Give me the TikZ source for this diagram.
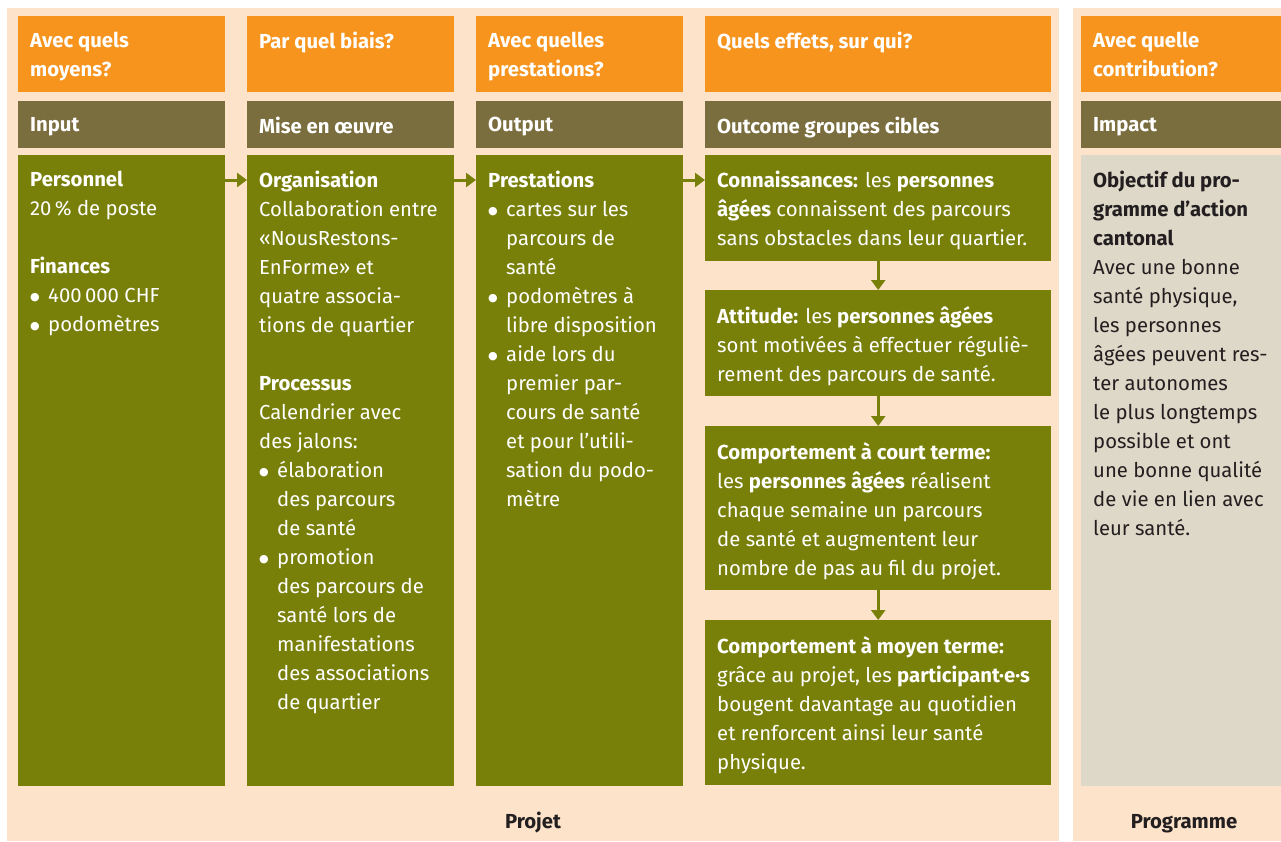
\documentclass[tikz,border=0pt]{standalone}
\usepackage{fontspec}
\setmainfont{Fira Sans}
\newfontfamily\dotfont{DejaVu Sans}
\usepackage{tikz}
\usetikzlibrary{positioning,calc,arrows.meta}

\definecolor{cream}{HTML}{FDE3C9}
\definecolor{orangehead}{HTML}{F7941E}
\definecolor{brownhead}{HTML}{7A6D3E}
\definecolor{olivebox}{HTML}{78800A}
\definecolor{greyimpact}{HTML}{DED8C8}
\definecolor{darktext}{HTML}{231F20}

\newcommand\itm{\makebox[18pt][l]{\raisebox{2.5pt}{\dotfont\fontsize{11}{11}\selectfont ●}}}
\newcommand\ind{\hspace*{18pt}}

\tikzset{
	box/.style={rectangle, draw=none, inner sep=0pt, anchor=north west},
	question/.style={box, fill=orangehead, minimum height=76pt},
	level/.style={box, fill=brownhead, minimum height=47pt},
	body/.style={box, fill=olivebox},
	headtxt/.style={anchor=north west, inner sep=0pt, align=left, text=white, font=\fontsize{20.3}{29}\selectfont\bfseries},
	bodytxt/.style={anchor=north west, inner sep=0pt, align=left, text=white, font=\fontsize{20.3}{29}\selectfont},
	lbl/.style={anchor=base, inner sep=0pt, text=darktext, font=\fontsize{20.3}{29}\selectfont\bfseries},
	flow/.style={olivebox, line width=3pt, -{Triangle[length=10pt,width=14pt]}}
}

\begin{document}
\begin{tikzpicture}[x=1pt, y=-1pt]
	\useasboundingbox (0,0) rectangle (1281,841);
	\fill[white] (0,0) rectangle (1281,841);
	\fill[cream] (7,8) rectangle (1059,841);
	\fill[cream] (1073,8) rectangle (1281,841);
	% headers
	\foreach \nm/\x/\w/\q/\l in {in/18/207/{Avec quels\\moyens?}/Input,
			mo/247/207/{Par quel biais?}/{Mise en œuvre},
			out/476/207/{Avec quelles\\prestations?}/Output,
			oc/705/346/{Quels effets, sur qui?}/{Outcome groupes cibles},
			imp/1081/200/{Avec quelle\\contribution?}/Impact} {
		\node[question, minimum width=\w pt] (q-\nm) at (\x,16) {};
		\node[headtxt] (tq-\nm) at ($(q-\nm.north west)+(12,16)$) {\q};
		\node[level, minimum width=\w pt] (l-\nm) at (\x,101) {};
		\node[headtxt] (tl-\nm) at ($(l-\nm.north west)+(12,16)$) {\l};
	};
	% input, mise en oeuvre, output
	\node[body, minimum width=207pt, minimum height=631pt] (b-in) at (18,155) {};
	\node[body, minimum width=207pt, minimum height=631pt] (b-mo) at (247,155) {};
	\node[body, minimum width=207pt, minimum height=631pt] (b-out) at (476,155) {};
	\node[bodytxt] (t-in) at ($(b-in.north west)+(12,16)$) {\textbf{Personnel}\\20\,\% de poste\\[29pt]
		\textbf{Finances}\\\itm 400\,000 CHF\\\itm podomètres};
	\node[bodytxt] (t-mo) at ($(b-mo.north west)+(12,16)$) {\textbf{Organisation}\\Collaboration entre\\«NousRestons-\\EnForme» et\\quatre associa-\\tions de quartier\\[29pt]
		\textbf{Processus}\\Calendrier avec\\des jalons:\\\itm élaboration\\\ind des parcours\\\ind de santé\\
		\itm promotion\\\ind des parcours de\\\ind santé lors de\\\ind manifestations\\\ind des associations\\\ind de quartier};
	\node[bodytxt] (t-out) at ($(b-out.north west)+(12,16)$) {\textbf{Prestations}\\\itm cartes sur les\\\ind parcours de\\\ind santé\\
		\itm podomètres à\\\ind libre disposition\\\itm aide lors du\\\ind premier par-\\\ind cours de santé\\\ind et pour l’utili-\\\ind sation du podo-\\\ind mètre};
	% outcome
	\node[body, minimum width=346pt, minimum height=106pt] (oc1) at (705,155) {};
	\node[body, minimum width=346pt, minimum height=106pt] (oc2) at (705,290) {};
	\node[body, minimum width=346pt, minimum height=164pt] (oc3) at (705,426) {};
	\node[body, minimum width=346pt, minimum height=165pt] (oc4) at (705,620) {};
	\node[bodytxt] (t-oc1) at ($(oc1.north west)+(12,16)$) {\textbf{Connaissances:} les \textbf{personnes}\\\textbf{âgées} connaissent des parcours\\sans obstacles dans leur quartier.};
	\node[bodytxt] (t-oc2) at ($(oc2.north west)+(12,16)$) {\textbf{Attitude:} les \textbf{personnes âgées}\\sont motivées à effectuer réguliè-\\rement des parcours de santé.};
	\node[bodytxt] (t-oc3) at ($(oc3.north west)+(12,16)$) {\textbf{Comportement à court terme:}\\les \textbf{personnes âgées} réalisent\\chaque semaine un parcours\\de santé et augmentent leur\\nombre de pas au fil du projet.};
	\node[bodytxt] (t-oc4) at ($(oc4.north west)+(12,16)$) {\textbf{Comportement à moyen terme:}\\grâce au projet, les \textbf{participant·e·s}\\bougent davantage au quotidien\\et renforcent ainsi leur santé\\physique.};
	% impact
	\node[box, fill=greyimpact, minimum width=200pt, minimum height=631pt] (b-imp) at (1081,155) {};
	\node[bodytxt, text=darktext] (t-imp) at ($(b-imp.north west)+(12,16)$) {\textbf{Objectif du pro-}\\\textbf{gramme d’action}\\\textbf{cantonal}\\Avec une bonne\\santé physique,\\les personnes\\âgées peuvent res-\\ter autonomes\\le plus longtemps\\possible et ont\\une bonne qualité\\de vie en lien avec\\leur santé.};
	% arrows
	\draw[flow] ($(b-in.north east)+(0,25)$) -- ($(b-mo.north west)+(0,25)$);
	\draw[flow] ($(b-mo.north east)+(0,25)$) -- ($(b-out.north west)+(0,25)$);
	\draw[flow] ($(b-out.north east)+(0,25)$) -- ($(oc1.north west)+(0,25)$);
	\draw[flow] (oc1.south) -- (oc2.north);
	\draw[flow] (oc2.south) -- (oc3.north);
	\draw[flow] (oc3.south) -- (oc4.north);
	% labels
	\node[lbl] (projet) at (533,828) {Projet};
	\node[lbl] (programme) at (1184,828) {Programme};
\end{tikzpicture}
\end{document}
